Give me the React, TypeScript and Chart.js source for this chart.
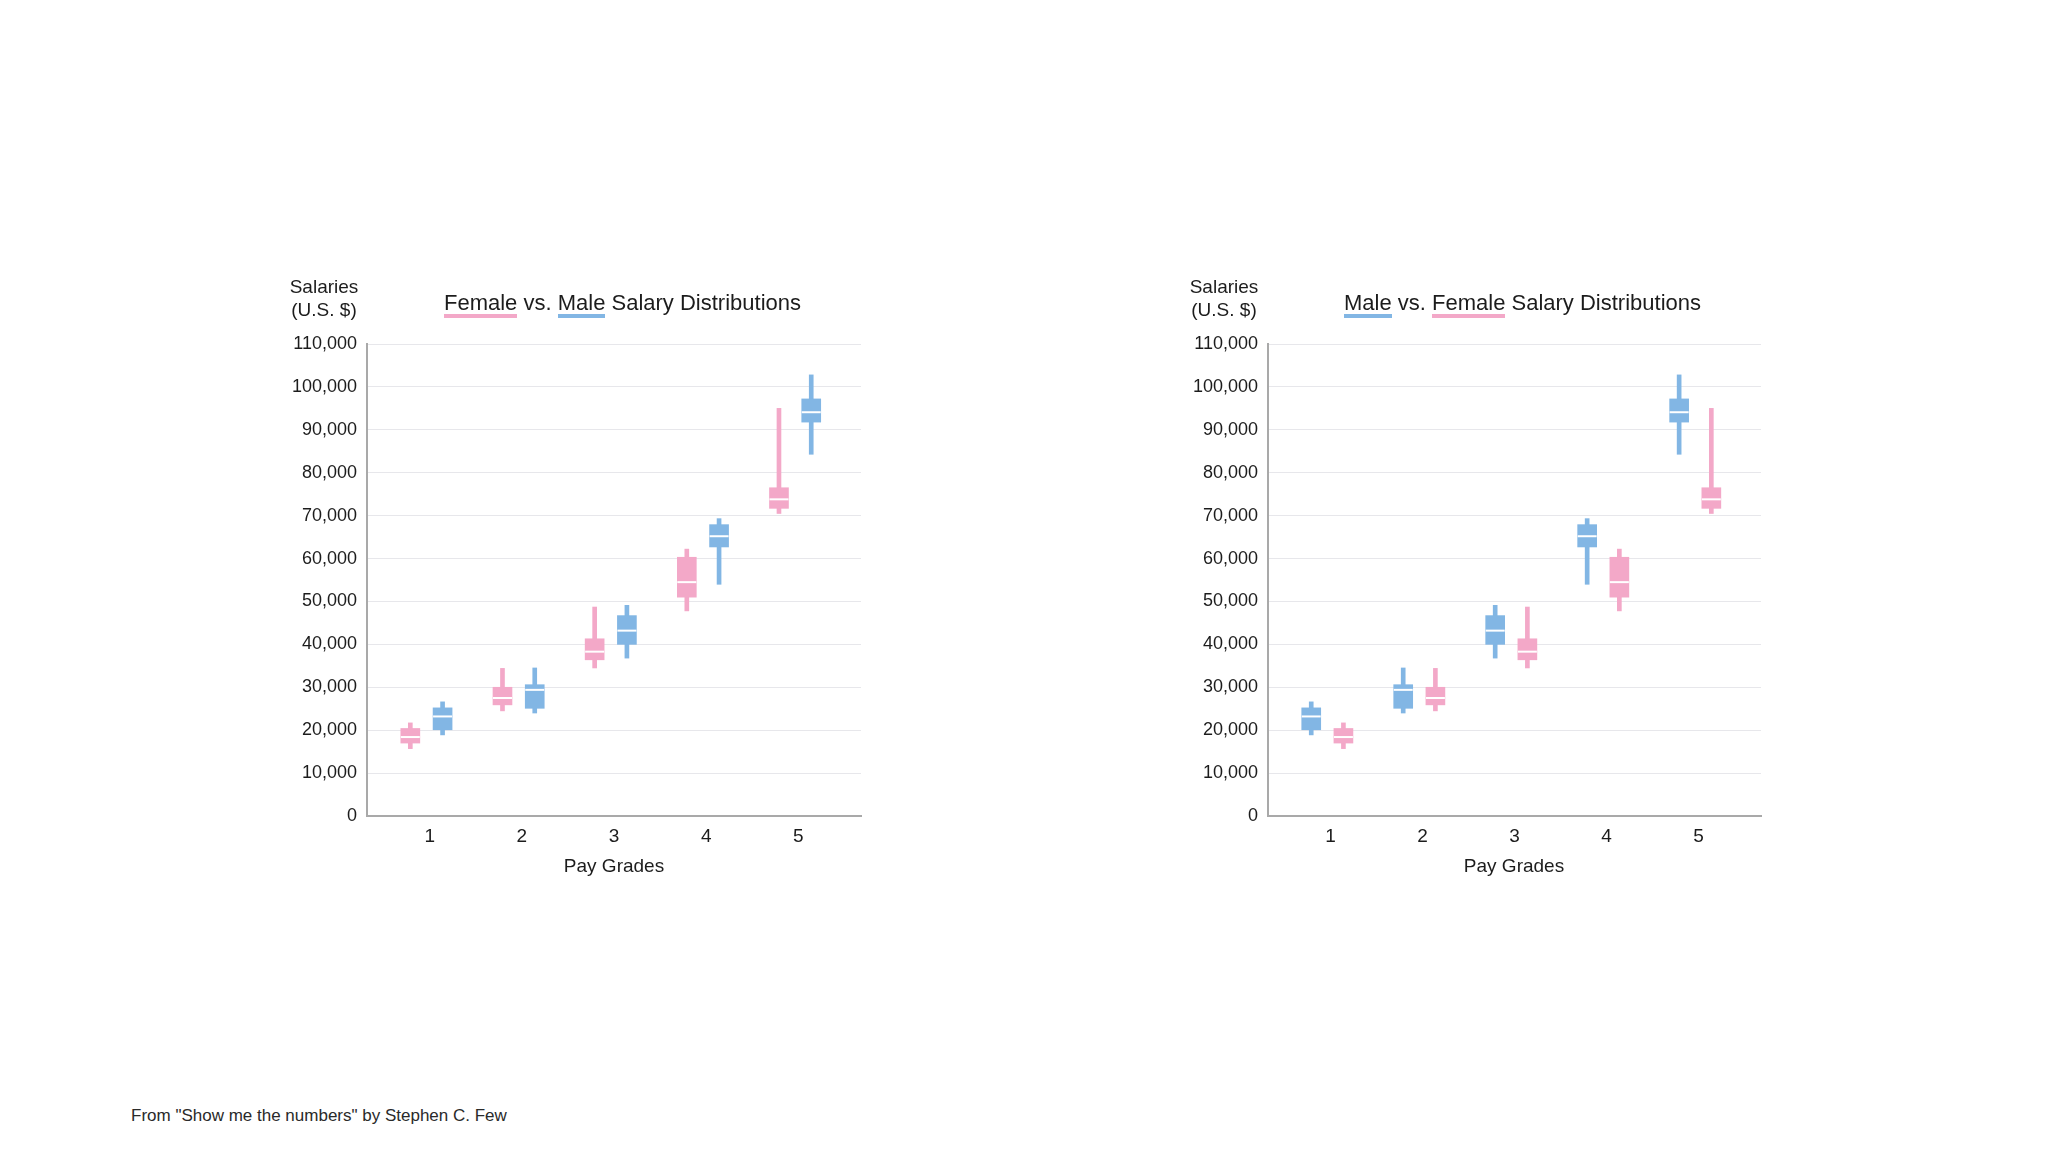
import React, { useEffect, useRef } from "react";
import { Chart, registerables } from "chart.js";

Chart.register(...registerables);

// Pay grades (x categories)
const grades = ["1", "2", "3", "4", "5"];

// Female salary distribution per grade
const femaleMin = [15700, 24500, 34500, 47800, 70500];
const femaleQ1 = [17000, 25900, 36400, 51000, 71700];
const femaleMedian = [18400, 27500, 38300, 54500, 73800];
const femaleQ3 = [20400, 30000, 41300, 60300, 76500];
const femaleMax = [21700, 34400, 48700, 62200, 95000];

// Male salary distribution per grade
const maleMin = [18900, 24000, 36800, 54000, 84300];
const maleQ1 = [20100, 25100, 40000, 62700, 91800];
const maleMedian = [23200, 29400, 43200, 65200, 94100];
const maleQ3 = [25200, 30600, 46700, 67900, 97200];
const maleMax = [26600, 34500, 49100, 69300, 102800];

const PINK = "#f3a8c8";
const BLUE = "#82b6e4";
const TEXT = "#1c1c1c";
const FONT = "'Liberation Sans', Arial, Helvetica, sans-serif";

interface Series {
  min: number[];
  q1: number[];
  median: number[];
  q3: number[];
  max: number[];
  color: string;
}

const female: Series = { min: femaleMin, q1: femaleQ1, median: femaleMedian, q3: femaleQ3, max: femaleMax, color: PINK };
const male: Series = { min: maleMin, q1: maleQ1, median: maleMedian, q3: maleQ3, max: maleMax, color: BLUE };

function boxDatasets(s: Series, offset: number): any[] {
  const xs = grades.map((_, i) => i + 1 + offset);
  return [
    {
      type: "bar",
      data: xs.map((x, i) => ({ x, y: [s.min[i], s.max[i]] })),
      backgroundColor: s.color,
      barThickness: 4,
      grouped: false,
      order: 3,
    },
    {
      type: "bar",
      data: xs.map((x, i) => ({ x, y: [s.q1[i], s.q3[i]] })),
      backgroundColor: s.color,
      barThickness: 19,
      grouped: false,
      order: 2,
    },
    {
      type: "line",
      data: xs.map((x, i) => ({ x, y: s.median[i] })),
      showLine: false,
      pointStyle: "line",
      pointRadius: 9.5,
      pointHoverRadius: 9.5,
      pointBorderColor: "#ffffff",
      pointBorderWidth: 2,
      order: 1,
    },
  ];
}

interface BoxChartProps {
  first: Series;
  second: Series;
  left: number;
  padRight: number;
}

const BoxChart: React.FC<BoxChartProps> = ({ first, second, left, padRight }) => {
  const canvasRef = useRef<HTMLCanvasElement>(null);

  useEffect(() => {
    if (!canvasRef.current) return;
    const chart = new Chart(canvasRef.current, {
      type: "bar",
      data: {
        datasets: [...boxDatasets(first, -0.21), ...boxDatasets(second, 0.14)],
      },
      options: {
        animation: false,
        responsive: true,
        maintainAspectRatio: false,
        events: [],
        layout: { padding: { top: 24, right: padRight, bottom: 0, left: 0 } },
        plugins: { legend: { display: false }, tooltip: { enabled: false } },
        scales: {
          x: {
            type: "linear",
            offset: false,
            min: 0.32,
            max: 5.68,
            afterBuildTicks: (axis: any) => {
              axis.ticks = grades.map((_, i) => ({ value: i + 1 }));
            },
            afterFit: (axis: any) => {
              axis.height = 50;
            },
            ticks: {
              callback: (v: any) => grades[Number(v) - 1] ?? "",
              font: { family: FONT, size: 19 },
              color: TEXT,
              padding: 9,
              autoSkip: false,
              maxRotation: 0,
            },
            grid: { display: false, drawTicks: false, offset: false },
            border: { color: "#a9a9a9", width: 2 },
          },
          y: {
            min: 0,
            max: 110000,
            afterFit: (axis: any) => {
              axis.width = 167;
            },
            ticks: {
              stepSize: 10000,
              callback: (v: any) => Number(v).toLocaleString("en-US"),
              font: { family: FONT, size: 18 },
              color: TEXT,
              padding: 10,
            },
            grid: { color: "#e7e7eb", lineWidth: 1, drawTicks: false },
            border: { color: "#a9a9a9", width: 2 },
          },
        },
      } as any,
    });
    return () => chart.destroy();
  }, [first, second, padRight]);

  return (
    <div style={{ position: "absolute", left, top: 320, width: 700, height: 546 }}>
      <canvas ref={canvasRef}></canvas>
    </div>
  );
};

const underline = (color: string): React.CSSProperties => ({
  display: "inline-block",
  lineHeight: "22px",
  borderBottom: `4px solid ${color}`,
});

const textBase: React.CSSProperties = { position: "absolute", fontFamily: FONT, color: TEXT, whiteSpace: "nowrap" };

const Panel: React.FC<{ offsetX: number; maleFirst: boolean }> = ({ offsetX, maleFirst }) => {
  const a = maleFirst ? { label: "Male", color: BLUE } : { label: "Female", color: PINK };
  const b = maleFirst ? { label: "Female", color: PINK } : { label: "Male", color: BLUE };
  return (
    <>
      <div style={{ ...textBase, left: 264 + offsetX, top: 275, width: 120, textAlign: "center", fontSize: 19, lineHeight: "23px" }}>
        Salaries
        <br />
        (U.S. $)
      </div>
      <div style={{ ...textBase, left: 444 + offsetX, top: 292, fontSize: 22, lineHeight: "22px" }}>
        <span style={underline(a.color)}>{a.label}</span> vs. <span style={underline(b.color)}>{b.label}</span> Salary Distributions
      </div>
      <div style={{ ...textBase, left: 514 + offsetX, top: 856, width: 200, textAlign: "center", fontSize: 19, lineHeight: "19px" }}>
        Pay Grades
      </div>
    </>
  );
};

export default function App() {
  return (
    <div style={{ position: "fixed", left: 0, top: 0, width: 2048, height: 1152, background: "#ffffff", overflow: "hidden" }}>
      <BoxChart first={female} second={male} left={200} padRight={39} />
      <BoxChart first={male} second={female} left={1101} padRight={40} />
      <Panel offsetX={0} maleFirst={false} />
      <Panel offsetX={900} maleFirst={true} />
      <div style={{ ...textBase, left: 131, top: 1107, fontSize: 17, lineHeight: "17px", color: "#2a2a2a" }}>
        From "Show me the numbers" by Stephen C. Few
      </div>
    </div>
  );
}
